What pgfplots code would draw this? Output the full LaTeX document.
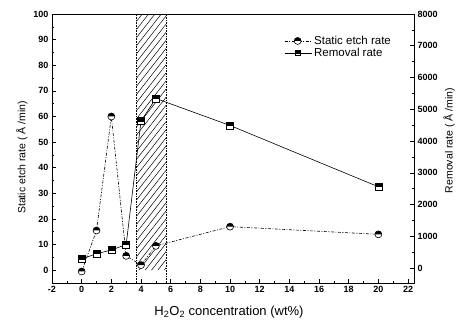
\documentclass[border=0pt]{standalone}
\usepackage{fontspec}
\setmainfont{Liberation Sans}
\usepackage{pgfplots}
\pgfplotsset{compat=1.18}
\usetikzlibrary{patterns.meta,calc}
\pgfdeclareplotmark{tophalfcircle}{%
  \pgfpathcircle{\pgfpointorigin}{\pgfplotmarksize}%
  \pgfsetfillcolor{white}\pgfusepathqfillstroke
  \pgfpathmoveto{\pgfqpoint{\pgfplotmarksize}{0pt}}%
  \pgfpatharc{0}{180}{\pgfplotmarksize}%
  \pgfpathclose
  \pgfsetfillcolor{black}\pgfusepathqfill}
\pgfdeclareplotmark{tophalfsquare}{%
  \pgfpathrectangle{\pgfqpoint{-\pgfplotmarksize}{-\pgfplotmarksize}}{\pgfqpoint{2\pgfplotmarksize}{2\pgfplotmarksize}}%
  \pgfsetfillcolor{white}\pgfusepathqfillstroke
  \pgfpathrectangle{\pgfqpoint{-\pgfplotmarksize}{-0.2\pgfplotmarksize}}{\pgfqpoint{2\pgfplotmarksize}{1.2\pgfplotmarksize}}%
  \pgfsetfillcolor{black}\pgfusepathqfill}
\begin{document}
\begin{tikzpicture}
\pgfplotsset{
  every axis/.append style={
    scale only axis, width=362pt, height=269pt,
    xmin=-2, xmax=22.4,
    tick label style={font=\bfseries\fontsize{9}{10}\selectfont},
    label style={font=\fontsize{10.5}{12}\selectfont},
    /pgf/number format/assume math mode=true,
    /pgf/number format/1000 sep={},
    major tick length=4pt, minor tick length=2pt,
    tick style={black, line width=0.6pt},
    axis line style={line width=0.8pt},
  }
}
\begin{axis}[
  ymin=-5, ymax=100,
  ytick={0,10,...,100}, minor ytick={5,15,...,95},
  xtick={-2,0,...,22}, minor xtick={-1,1,...,21},
  xtick pos=bottom, ytick pos=left,
  xlabel={H\textsubscript{2}O\textsubscript{2} concentration (wt\%)},
  ylabel={Static etch rate ( Å /min)},
  xlabel style={font=\fontsize{13}{15}\selectfont, yshift=-6pt, xshift=-4pt},
  ylabel style={yshift=-1pt, xshift=-9pt},
  legend style={draw=none, fill=none, at={(rel axis cs:0.945,0.93)}, anchor=north east,
    font=\fontsize{11.5}{13}\selectfont, row sep=-1.5pt, inner sep=1pt},
  legend cell align=left,
  legend image code/.code={%
    \draw[#1] (0cm,0cm) -- (0.95cm,0cm);
    \draw[#1, solid] plot coordinates {(0.45cm,0cm)};},
]
\addplot[draw=none, pattern={Lines[angle=52,distance=5pt,line width=0.5pt]}, forget plot]
  coordinates {(3.7,-5) (3.7,100) (5.7,100) (5.7,-5)} \closedcycle;
\addplot[densely dotted, line width=0.6pt, forget plot] coordinates {(3.7,-5) (3.7,100)};
\addplot[densely dotted, line width=0.6pt, forget plot] coordinates {(5.7,-5) (5.7,100)};
\addplot[black, line width=0.6pt, dash pattern=on 3pt off 1.5pt on 1pt off 1.5pt,
  mark=tophalfcircle, mark size=3.5pt, mark options={solid, line width=0.6pt}]
  coordinates {(0,-0.5) (1,15.5) (2,60) (3,5.6) (4,2) (5,9.5) (10,17) (20,14)};
\addlegendentry{Static etch rate}
\addlegendimage{black, line width=0.6pt, mark=tophalfsquare, mark size=2.5pt, mark options={solid}}
\addlegendentry{Removal rate}
\end{axis}
\begin{axis}[
  ymin=-470, ymax=8000,
  axis x line=none, axis y line*=right,
  ytick={0,1000,...,8000}, minor ytick={500,1500,...,7500},
  ylabel={Removal rate ( Å /min)},
  ylabel style={yshift=1pt, xshift=8pt},
]
\addplot[black, line width=0.6pt, mark=tophalfsquare, mark size=3.5pt, mark options={solid, line width=0.6pt}]
  coordinates {(0,290) (1,450) (2,570) (3,740) (4,4630) (5,5340) (10,4490) (20,2560)};
\end{axis}
\path[use as bounding box] ($(current axis.south west)+(-52pt,-43pt)$) rectangle ($(current axis.north east)+(45pt,14pt)$);
\end{tikzpicture}
\end{document}
